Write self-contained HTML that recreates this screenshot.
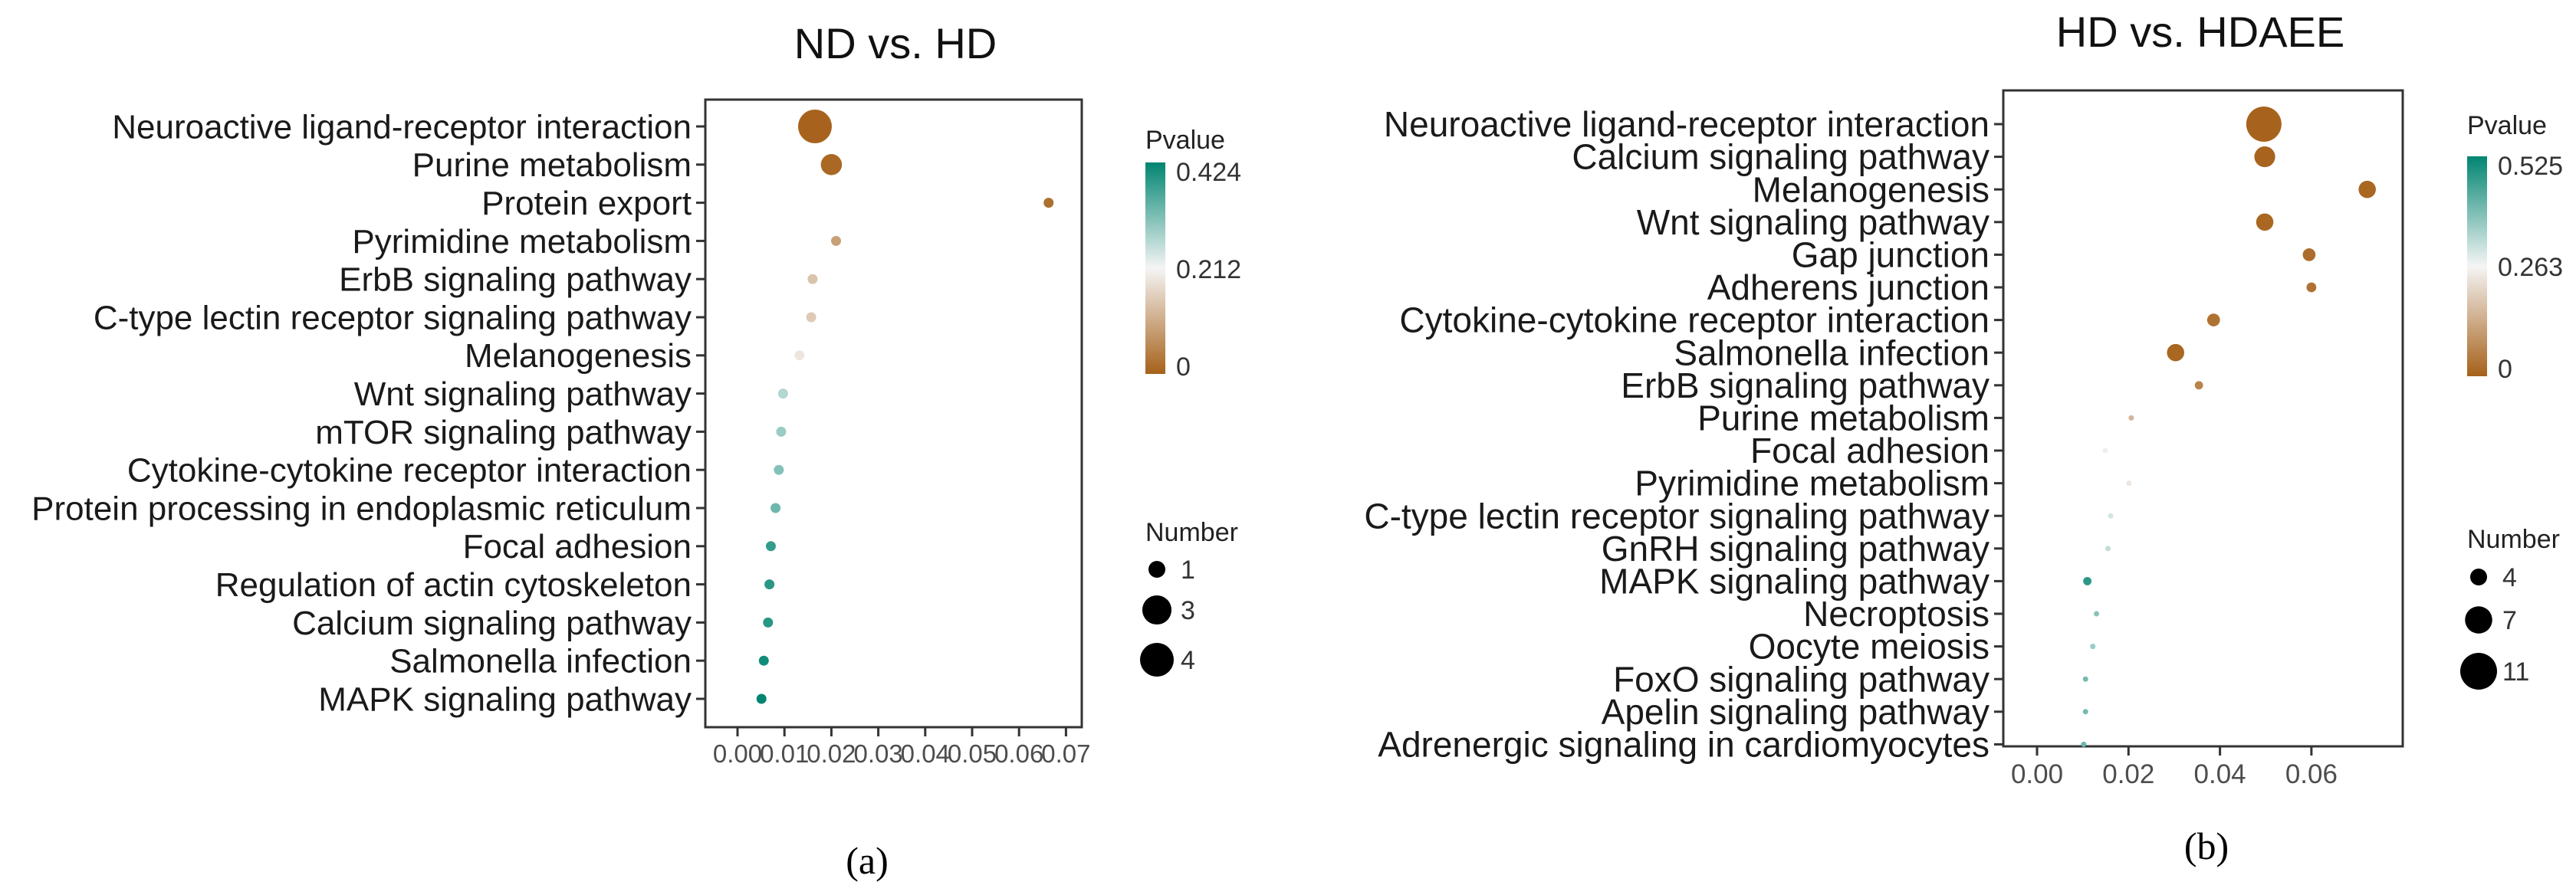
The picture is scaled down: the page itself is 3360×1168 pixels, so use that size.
<!DOCTYPE html>
<html><head><meta charset="utf-8">
<style>
html,body{margin:0;padding:0;background:#fff;}
svg{display:block;font-family:"Liberation Sans",Arial,sans-serif;}
</style></head>
<body>
<svg id="chart" width="3360" height="1168" viewBox="0 0 3360 1168" xmlns="http://www.w3.org/2000/svg">
<defs>
<linearGradient id="gradA" x1="0" y1="1" x2="0" y2="0">
<stop offset="0" stop-color="#a6611a"/><stop offset="0.5" stop-color="#f5f5f5"/><stop offset="1" stop-color="#018571"/>
</linearGradient>
<linearGradient id="gradB" x1="0" y1="1" x2="0" y2="0">
<stop offset="0" stop-color="#a6611a"/><stop offset="0.5" stop-color="#f5f5f5"/><stop offset="1" stop-color="#018571"/>
</linearGradient>
</defs>
<text x="1168" y="76" font-size="56" text-anchor="middle" fill="#111">ND vs. HD</text>
<text x="2870" y="61" font-size="56" text-anchor="middle" fill="#111">HD vs. HDAEE</text>
<text x="1131" y="1140" font-size="50" text-anchor="middle" font-family="Liberation Serif, serif" fill="#000">(a)</text>
<text x="2878" y="1121" font-size="50" text-anchor="middle" font-family="Liberation Serif, serif" fill="#000">(b)</text>
<g id="panelA"></g>
<g id="panelB"></g>
</svg>
<script>
const aCategories = ["Neuroactive ligand-receptor interaction","Purine metabolism","Protein export","Pyrimidine metabolism","ErbB signaling pathway","C-type lectin receptor signaling pathway","Melanogenesis","Wnt signaling pathway","mTOR signaling pathway","Cytokine-cytokine receptor interaction","Protein processing in endoplasmic reticulum","Focal adhesion","Regulation of actin cytoskeleton","Calcium signaling pathway","Salmonella infection","MAPK signaling pathway"];
const aX = [0.0165,0.0200,0.0663,0.0210,0.0160,0.0157,0.0132,0.0097,0.0093,0.0088,0.0081,0.0071,0.0068,0.0065,0.0056,0.0051];
const aP = [0.003,0.01,0.02,0.09,0.14,0.15,0.19,0.27,0.29,0.31,0.33,0.38,0.39,0.39,0.41,0.424];
const aN = [4,2,1,1,1,1,1,1,1,1,1,1,1,1,1,1];
const aTicks = [0,0.01,0.02,0.03,0.04,0.05,0.06,0.07];
const aTickLabels = ["0.00","0.01","0.02","0.03","0.04","0.05","0.06","0.07"];
const aPTicks = [0,0.212,0.424];
const aPTickLabels = ["0","0.212","0.424"];
const aNumLegend = [1,3,4];

const bCategories = ["Neuroactive ligand-receptor interaction","Calcium signaling pathway","Melanogenesis","Wnt signaling pathway","Gap junction","Adherens junction","Cytokine-cytokine receptor interaction","Salmonella infection","ErbB signaling pathway","Purine metabolism","Focal adhesion","Pyrimidine metabolism","C-type lectin receptor signaling pathway","GnRH signaling pathway","MAPK signaling pathway","Necroptosis","Oocyte meiosis","FoxO signaling pathway","Apelin signaling pathway","Adrenergic signaling in cardiomyocytes"];
const bX = [0.0496,0.0498,0.0722,0.0498,0.0595,0.0600,0.0386,0.0303,0.0354,0.0206,0.0149,0.0201,0.0161,0.0155,0.0110,0.0130,0.0122,0.0106,0.0106,0.0102];
const bP = [0.003,0.005,0.01,0.01,0.02,0.03,0.03,0.01,0.06,0.15,0.25,0.24,0.30,0.32,0.48,0.38,0.36,0.40,0.40,0.41];
const bN = [11,5,4,4,3,2.5,3,4,2.3,2,2,2,2,2,2.3,2,2,2,2,2];
const bTicks = [0,0.02,0.04,0.06];
const bTickLabels = ["0.00","0.02","0.04","0.06"];
const bPTicks = [0,0.263,0.525];
const bPTickLabels = ["0","0.263","0.525"];
const bNumLegend = [4,7,11];

const NS = "http://www.w3.org/2000/svg";
function mk(parent, tag, attrs){const e=document.createElementNS(NS,tag);for(const k in attrs)e.setAttribute(k,attrs[k]);parent.appendChild(e);return e;}
function lerp(a,b,t){return a+(b-a)*t;}
function hex(c){return [parseInt(c.slice(1,3),16),parseInt(c.slice(3,5),16),parseInt(c.slice(5,7),16)];}
const cLow=hex("#a6611a"),cMid=hex("#f5f5f5"),cHigh=hex("#018571");
function colorFor(p,pmax){let t=Math.max(0,Math.min(1,p/pmax));let a,b,u;if(t<0.5){a=cLow;b=cMid;u=t*2;}else{a=cMid;b=cHigh;u=(t-0.5)*2;}return "rgb("+[0,1,2].map(i=>Math.round(lerp(a[i],b[i],u))).join(",")+")";}

function drawPanel(g, cfg, cats, xs, ps, ns, ticks, tickLabels, pTicks, pTickLabels, numLegend){
  const xScale = v => cfg.x0 + (v - 0) * cfg.pxPerUnit;
  const yScale = i => cfg.row0 + i * cfg.rowStep;
  const rScale = n => Math.sqrt(cfg.rmin*cfg.rmin + (cfg.rmax*cfg.rmax - cfg.rmin*cfg.rmin) * Math.max(0,(n-cfg.nmin))/(cfg.nmax-cfg.nmin));
  const lScale = n => Math.sqrt(cfg.lmin*cfg.lmin + (cfg.lmax*cfg.lmax - cfg.lmin*cfg.lmin) * Math.max(0,(n-numLegend[0]))/(numLegend[numLegend.length-1]-numLegend[0]));
  const box = mk(g,"rect",{x:cfg.left,y:cfg.top,width:cfg.right-cfg.left,height:cfg.bottom-cfg.top,fill:"#fff",stroke:"#333","stroke-width":3});
  
  
  cats.forEach((c,i)=>{
    const y=yScale(i);
    const t=mk(g,"line",{x1:cfg.left-12,x2:cfg.left,y1:y,y2:y,stroke:"#333","stroke-width":3});
    
    
    const tx=mk(g,"text",{x:cfg.left-18,y:y+cfg.labelSize*0.35,"font-size":cfg.labelSize,"text-anchor":"end",fill:"#1a1a1a"});
    tx.textContent=c;
    
    
  });
  ticks.forEach((v,i)=>{
    const x=xScale(v);
    const t=mk(g,"line",{x1:x,x2:x,y1:cfg.bottom,y2:cfg.bottom+12,stroke:"#333","stroke-width":3});
    
    
    const tx=mk(g,"text",{x:x,y:cfg.bottom+cfg.tickLabelDy,"font-size":cfg.tickSize,"text-anchor":"middle",fill:"#4d4d4d"});
    tx.textContent=tickLabels[i];
    
    
  });
  cats.forEach((c,i)=>{
    const d=mk(g,"circle",{cx:xScale(xs[i]),cy:yScale(i),r:rScale(ns[i]),fill:colorFor(ps[i],cfg.pmax)});
    
    
  });
  const lt=mk(g,"text",{x:cfg.legX,y:cfg.pTitleY,"font-size":34,fill:"#222"});
  lt.textContent="Pvalue";
  
  
  const cb=mk(g,"rect",{x:cfg.legX,y:cfg.cbTop,width:26,height:cfg.cbBottom-cfg.cbTop,fill:"url(#"+cfg.grad+")"});
  
  
  pTicks.forEach((v,i)=>{
    const y=cfg.cbBottom-10-(v/cfg.pmax)*(cfg.cbBottom-cfg.cbTop-22);
    const tx=mk(g,"text",{x:cfg.legX+40,y:y+12,"font-size":34,fill:"#333"});
    tx.textContent=pTickLabels[i];
    
    
  });
  const nt=mk(g,"text",{x:cfg.legX,y:cfg.nTitleY,"font-size":34,fill:"#222"});
  nt.textContent="Number";
  
  
  numLegend.forEach((n,i)=>{
    const y=cfg.nLegY[i];
    const c=mk(g,"circle",{cx:cfg.legX+15,cy:y,r:lScale(n),fill:"#000"});
    
    
    const tx=mk(g,"text",{x:cfg.legX+46,y:y+12,"font-size":34,fill:"#333"});
    tx.textContent=String(n);
    
    
  });
}

drawPanel(document.getElementById("panelA"),
 {left:920,right:1411,top:130,bottom:949,x0:962,pxPerUnit:6120,row0:165,rowStep:49.8,labelSize:44,tickSize:33,tickLabelDy:46,
  rmin:6.5,rmax:22,nmin:1,nmax:4,lmin:11,lmax:22,pmax:0.424,legX:1494,pTitleY:194,cbTop:212,cbBottom:488,grad:"gradA",nTitleY:706,nLegY:[743,796,861]},
 aCategories,aX,aP,aN,aTicks,aTickLabels,aPTicks,aPTickLabels,aNumLegend);

drawPanel(document.getElementById("panelB"),
 {left:2613,right:3134,top:118,bottom:974,x0:2657,pxPerUnit:5965,row0:162,rowStep:42.6,labelSize:46,tickSize:35,tickLabelDy:48,
  rmin:3.5,rmax:23,nmin:2,nmax:11,lmin:11,lmax:24,pmax:0.525,legX:3218,pTitleY:175,cbTop:204,cbBottom:491,grad:"gradB",nTitleY:715,nLegY:[753,809,876]},
 bCategories,bX,bP,bN,bTicks,bTickLabels,bPTicks,bPTickLabels,bNumLegend);
</script>
</body></html>
